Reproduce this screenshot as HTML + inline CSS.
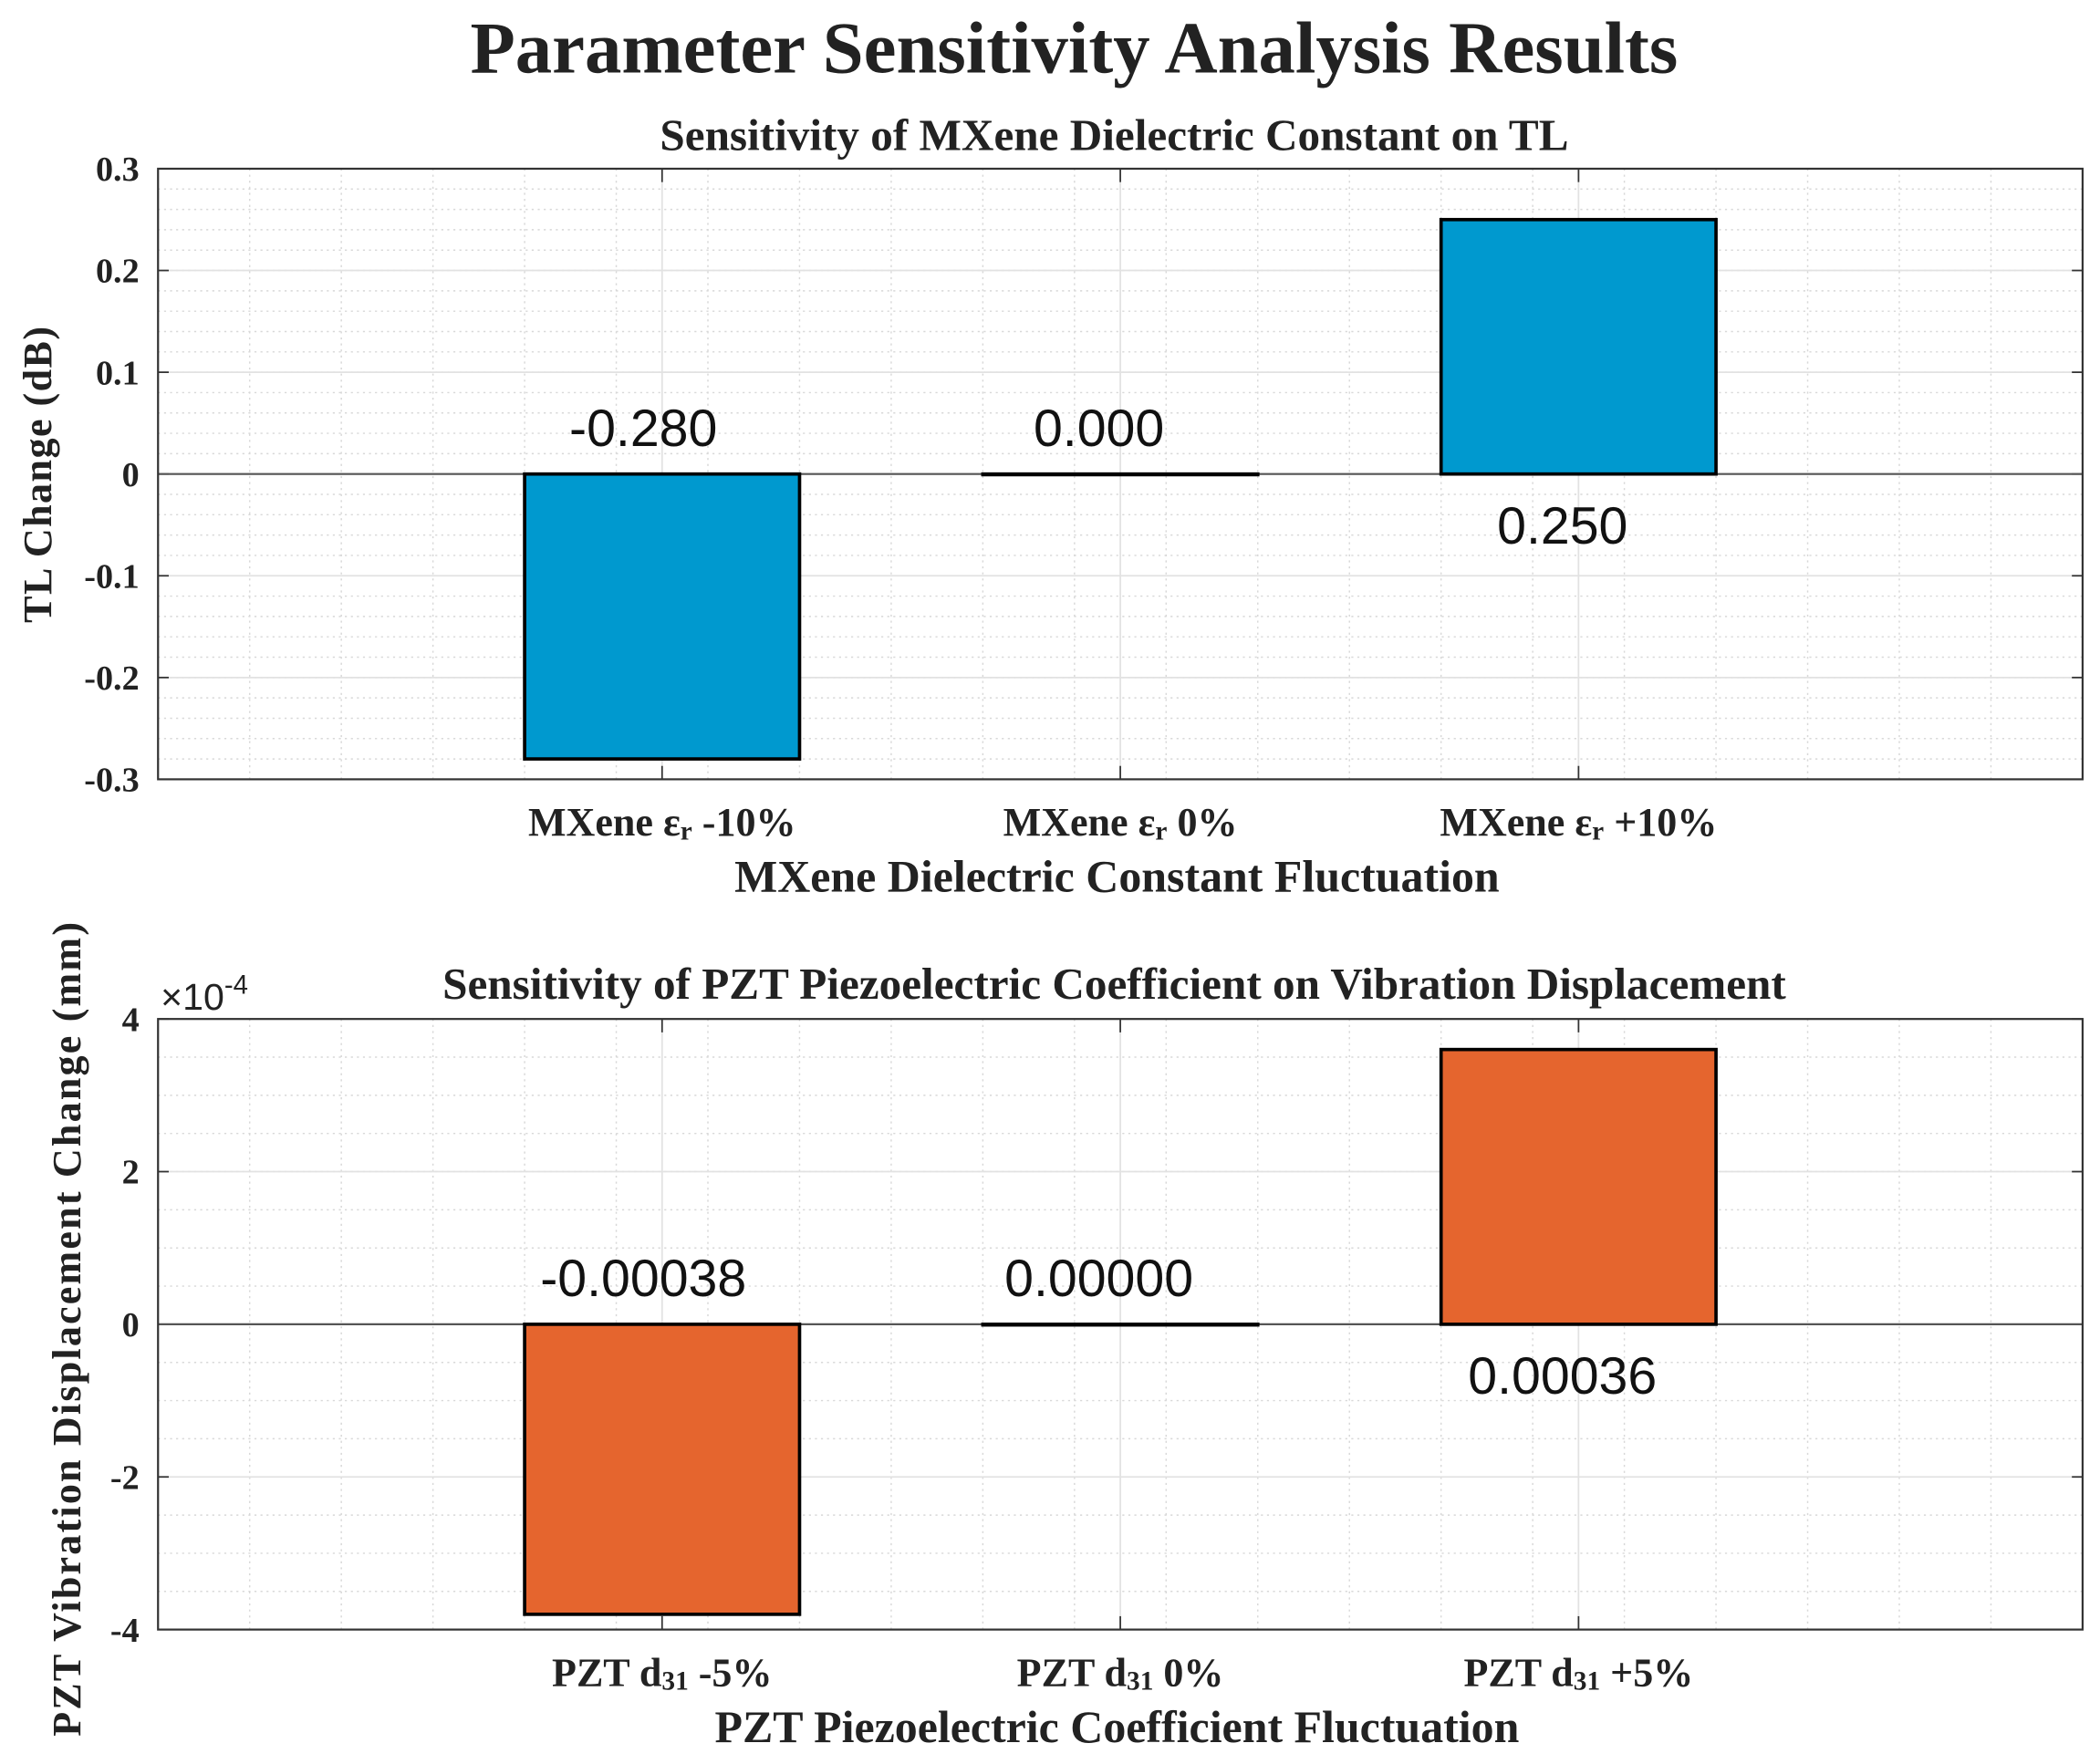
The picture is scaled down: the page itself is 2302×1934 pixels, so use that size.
<!DOCTYPE html>
<html><head><meta charset="utf-8"><style>
html,body{margin:0;padding:0;background:#fff;}
svg{display:block;}
.serif{font-family:"Liberation Serif","DejaVu Serif",serif;font-weight:bold;fill:#222;}
.val{font-family:"Liberation Sans","DejaVu Sans",sans-serif;fill:#111;font-size:39px;}
</style></head><body>
<svg id="chart" width="2302" height="1934" viewBox="0 0 1568 1317.4" preserveAspectRatio="none" xmlns="http://www.w3.org/2000/svg">
<text class="serif" x="802" y="54" text-anchor="middle" font-size="55">Parameter Sensitivity Analysis Results</text>
</svg>
<script>
const topCategories = ["MXene εr -10%", "MXene εr 0%", "MXene εr +10%"];
const topValues = [-0.28, 0.0, 0.25];
const topLabels = ["-0.280", "0.000", "0.250"];
const topTicks = [0.3, 0.2, 0.1, 0, -0.1, -0.2, -0.3];
const topTickLabels = ["0.3", "0.2", "0.1", "0", "-0.1", "-0.2", "-0.3"];
const botCategories = ["PZT d31 -5%", "PZT d31 0%", "PZT d31 +5%"];
const botValues = [-3.8, 0.0, 3.6];
const botLabels = ["-0.00038", "0.00000", "0.00036"];
const botTicks = [4, 2, 0, -2, -4];
const botTickLabels = ["4", "2", "0", "-2", "-4"];

const NS = "http://www.w3.org/2000/svg";
const svg = document.getElementById("chart");
function el(tag, attrs, parent) {
  const e = document.createElementNS(NS, tag);
  for (const k in attrs) e.setAttribute(k, attrs[k]);
  (parent || svg).appendChild(e);
  return e;
}

function panel(cfg) {
  const g = el("g", {});
  
  
  const L = 118, R = 1555, T = cfg.top, B = cfg.bottom;
  const xmin = -0.1, xmax = 4.1;
  const sx = v => L + (v - xmin) / (xmax - xmin) * (R - L);
  const sy = v => T + (cfg.ymax - v) / (cfg.ymax - cfg.ymin) * (B - T);
  el("rect", {x: L, y: T, width: R - L, height: B - T, fill: "#fff"}, g);
  for (let v = cfg.ymin; v <= cfg.ymax + 1e-9; v += cfg.minor) {
    el("line", {x1: L, x2: R, y1: sy(v), y2: sy(v), stroke: "#d8d8d8", "stroke-width": 1, "stroke-dasharray": "1.5 3"}, g);
  }
  for (let v = 0.1; v < xmax; v += 0.2) {
    el("line", {x1: sx(v), x2: sx(v), y1: T, y2: B, stroke: "#d8d8d8", "stroke-width": 1, "stroke-dasharray": "1.5 3"}, g);
  }
  cfg.ticks.forEach((v, i) => {
    el("line", {x1: L, x2: R, y1: sy(v), y2: sy(v), stroke: "#e2e2e2", "stroke-width": 1.2}, g);
    el("line", {x1: L, x2: L + 8, y1: sy(v), y2: sy(v), stroke: "#333", "stroke-width": 1.2}, g);
    el("line", {x1: R - 8, x2: R, y1: sy(v), y2: sy(v), stroke: "#333", "stroke-width": 1.2}, g);
    const t = el("text", {x: L - 14, y: sy(v) + 9, "text-anchor": "end", "font-size": 26, class: "serif"}, g);
    t.textContent = cfg.tickLabels[i];
    
    
  });
  cfg.cats.forEach((c, i) => {
    el("line", {x1: sx(i + 1), x2: sx(i + 1), y1: T, y2: B, stroke: "#e2e2e2", "stroke-width": 1.2}, g);
    el("line", {x1: sx(i + 1), x2: sx(i + 1), y1: B - 10, y2: B, stroke: "#333", "stroke-width": 1.2}, g);
    el("line", {x1: sx(i + 1), x2: sx(i + 1), y1: T, y2: T + 10, stroke: "#333", "stroke-width": 1.2}, g);
  });
  el("line", {x1: L, x2: R, y1: sy(0), y2: sy(0), stroke: "#555", "stroke-width": 1.5}, g);
  cfg.vals.forEach((v, i) => {
    const x0 = sx(i + 1 - 0.3), x1 = sx(i + 1 + 0.3);
    const y0 = sy(Math.max(v, 0)), y1 = sy(Math.min(v, 0));
    const b = el("rect", {x: x0, y: y0, width: x1 - x0, height: Math.max(y1 - y0, 0.5), fill: cfg.color, stroke: "#000", "stroke-width": 2.5}, g);
    
    
    const ly = v > 0 ? sy(0) + 52 : sy(0) - 21;
    const lx = sx(i + 1) + (v > 0 ? -12 : (v < 0 ? -14 : -16));
    const t = el("text", {x: lx, y: ly, "text-anchor": "middle", class: "val"}, g);
    t.textContent = cfg.labels[i];
    
    
  });
  cfg.cats.forEach((c, i) => {
    const t = el("text", {x: sx(i + 1), y: B + 42, "text-anchor": "middle", "font-size": 30, class: "serif"}, g);
    
    
    const m = c.match(/^(.*?)(εr|d31)(.*)$/);
    const p1 = el("tspan", {}, t); p1.textContent = m[1] + m[2][0];
    const p2 = el("tspan", {"font-size": 20, dy: 3}, t); p2.textContent = m[2].slice(1);
    const p3 = el("tspan", {dy: -3}, t); p3.textContent = m[3];
  });
  el("rect", {x: L, y: T, width: R - L, height: B - T, fill: "none", stroke: "#333", "stroke-width": 1.5}, g);
  const st = el("text", {x: 832, y: cfg.subY, "text-anchor": "middle", "font-size": 33.5, class: "serif"}, g);
  st.textContent = cfg.subtitle;
  
  
  const xl = el("text", {x: 834, y: B + 84, "text-anchor": "middle", "font-size": 34, class: "serif"}, g);
  xl.textContent = cfg.xlabel;
  
  
  const yl = el("text", {x: 0, y: 0, "text-anchor": "middle", "font-size": 30, class: "serif", "letter-spacing": cfg.ls, transform: `translate(${cfg.ylx},${cfg.yly}) rotate(-90)`}, g);
  yl.textContent = cfg.ylabel;
  
  
  return g;
}

panel({name: "top-panel", top: 126, bottom: 582, ymin: -0.3, ymax: 0.3, minor: 0.02,
  ticks: topTicks, tickLabels: topTickLabels, cats: topCategories, vals: topValues, labels: topLabels,
  color: "#0099cf", subY: 112, subtitle: "Sensitivity of MXene Dielectric Constant on TL",
  xlabel: "MXene Dielectric Constant Fluctuation", ylabel: "TL Change (dB)", ylx: 38, yly: 354, ls: 1});
panel({name: "bottom-panel", top: 761, bottom: 1217, ymin: -4, ymax: 4, minor: 0.5,
  ticks: botTicks, tickLabels: botTickLabels, cats: botCategories, vals: botValues, labels: botLabels,
  color: "#e5652e", subY: 746, subtitle: "Sensitivity of PZT Piezoelectric Coefficient on Vibration Displacement",
  xlabel: "PZT Piezoelectric Coefficient Fluctuation", ylabel: "PZT Vibration Displacement Change (mm)", ylx: 60, yly: 992, ls: 1.5});

const ex = el("text", {x: 120, y: 754, "font-size": 28, fill: "#222", "font-family": "Liberation Sans, sans-serif"});


const e1 = el("tspan", {}, ex); e1.textContent = "×10";
const e2 = el("tspan", {dy: -12, "font-size": 20}, ex); e2.textContent = "-4";
</script>
</body></html>
